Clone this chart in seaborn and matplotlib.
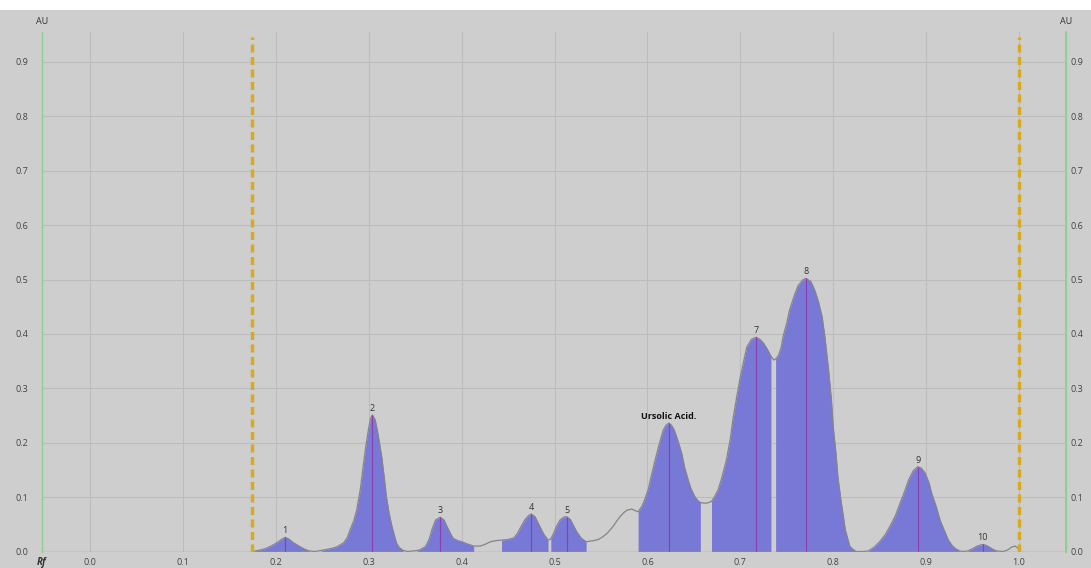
import numpy as np
import pandas as pd
import matplotlib
matplotlib.use("Agg")
import matplotlib.pyplot as plt
import matplotlib.patches as mpatches
import seaborn as sns

# ---- data ----
rf = [0.174, 0.178, 0.184, 0.190, 0.196, 0.201, 0.206, 0.210, 0.214, 0.219,
      0.225, 0.230, 0.236, 0.242, 0.249, 0.255, 0.261, 0.266, 0.273, 0.277,
      0.280, 0.284, 0.287, 0.291, 0.294, 0.297, 0.300, 0.302, 0.304, 0.307,
      0.310, 0.314, 0.317, 0.319, 0.322, 0.325, 0.328, 0.330, 0.333, 0.337,
      0.342, 0.348, 0.352, 0.355, 0.361, 0.365, 0.368, 0.372, 0.377, 0.381,
      0.384, 0.388, 0.391, 0.396, 0.400, 0.406, 0.413, 0.420, 0.425, 0.431,
      0.437, 0.443, 0.450, 0.456, 0.460, 0.464, 0.468, 0.472, 0.475, 0.479,
      0.484, 0.488, 0.493, 0.496, 0.499, 0.502, 0.506, 0.510, 0.513, 0.517,
      0.521, 0.524, 0.529, 0.534, 0.538, 0.542, 0.547, 0.552, 0.557, 0.563,
      0.567, 0.571, 0.575, 0.578, 0.583, 0.587, 0.590, 0.594, 0.597, 0.601,
      0.604, 0.608, 0.612, 0.617, 0.620, 0.623, 0.626, 0.629, 0.633, 0.637,
      0.640, 0.644, 0.647, 0.651, 0.654, 0.657, 0.661, 0.664, 0.669, 0.672,
      0.676, 0.680, 0.685, 0.689, 0.692, 0.696, 0.700, 0.704, 0.707, 0.712,
      0.717, 0.721, 0.725, 0.729, 0.733, 0.736, 0.738, 0.741, 0.744, 0.746,
      0.750, 0.753, 0.758, 0.762, 0.767, 0.771, 0.776, 0.780, 0.784, 0.788,
      0.791, 0.795, 0.798, 0.800, 0.803, 0.805, 0.808, 0.811, 0.813, 0.816,
      0.818, 0.822, 0.825, 0.832, 0.838, 0.844, 0.850, 0.856, 0.861, 0.867,
      0.872, 0.877, 0.881, 0.886, 0.891, 0.895, 0.899, 0.903, 0.906, 0.911,
      0.915, 0.920, 0.924, 0.928, 0.931, 0.936, 0.940, 0.945, 0.950, 0.955,
      0.961, 0.965, 0.969, 0.973, 0.976, 0.983, 0.988, 0.992, 0.996, 0.999,
      1.000]
au = [0.000, 0.001, 0.003, 0.006, 0.011, 0.016, 0.022, 0.026, 0.023, 0.016,
      0.010, 0.005, 0.001, 0.000, 0.002, 0.004, 0.006, 0.009, 0.016, 0.026,
      0.040, 0.057, 0.076, 0.115, 0.156, 0.195, 0.227, 0.245, 0.251, 0.242,
      0.216, 0.174, 0.132, 0.101, 0.070, 0.046, 0.027, 0.015, 0.007, 0.002,
      0.000, 0.001, 0.002, 0.003, 0.009, 0.022, 0.040, 0.058, 0.063, 0.058,
      0.047, 0.033, 0.024, 0.020, 0.018, 0.014, 0.010, 0.010, 0.013, 0.018,
      0.020, 0.021, 0.022, 0.025, 0.033, 0.046, 0.058, 0.066, 0.069, 0.064,
      0.047, 0.033, 0.021, 0.023, 0.033, 0.046, 0.058, 0.063, 0.064, 0.059,
      0.046, 0.036, 0.024, 0.018, 0.019, 0.020, 0.022, 0.027, 0.034, 0.046,
      0.056, 0.065, 0.072, 0.076, 0.078, 0.075, 0.073, 0.083, 0.095, 0.115,
      0.138, 0.166, 0.193, 0.223, 0.232, 0.236, 0.232, 0.223, 0.203, 0.180,
      0.155, 0.131, 0.115, 0.101, 0.094, 0.090, 0.089, 0.089, 0.092, 0.100,
      0.113, 0.135, 0.168, 0.205, 0.242, 0.283, 0.321, 0.352, 0.376, 0.390,
      0.394, 0.390, 0.383, 0.372, 0.359, 0.352, 0.354, 0.360, 0.375, 0.395,
      0.420, 0.444, 0.470, 0.488, 0.499, 0.502, 0.496, 0.481, 0.460, 0.432,
      0.395, 0.334, 0.280, 0.229, 0.180, 0.138, 0.098, 0.064, 0.040, 0.021,
      0.009, 0.003, 0.000, 0.000, 0.001, 0.008, 0.018, 0.031, 0.046, 0.066,
      0.089, 0.111, 0.131, 0.148, 0.156, 0.153, 0.144, 0.127, 0.107, 0.082,
      0.058, 0.037, 0.021, 0.011, 0.006, 0.001, 0.000, 0.001, 0.005, 0.010,
      0.013, 0.011, 0.007, 0.003, 0.001, 0.000, 0.003, 0.008, 0.010, 0.006,
      0.000]

peak_labels = ["1", "2", "3", "4", "5", "Ursolic Acid.", "7", "8", "9", "10"]
peak_rf = [0.210, 0.304, 0.377, 0.475, 0.513, 0.623, 0.717, 0.771, 0.891, 0.961]
peak_au = [0.026, 0.251, 0.063, 0.069, 0.064, 0.236, 0.394, 0.502, 0.156, 0.013]
fill_start = [0.174, 0.249, 0.352, 0.443, 0.496, 0.590, 0.669, 0.738, 0.838, 0.945]
fill_end = [0.236, 0.337, 0.413, 0.493, 0.534, 0.657, 0.733, 0.825, 0.936, 0.976]
marker_rf = [0.174, 1.000]

x_ticks = [0.0, 0.1, 0.2, 0.3, 0.4, 0.5, 0.6, 0.7, 0.8, 0.9, 1.0]
y_ticks = [0.0, 0.1, 0.2, 0.3, 0.4, 0.5, 0.6, 0.7, 0.8, 0.9]

df = pd.DataFrame({"Rf": rf, "AU": au})

BG = "#cecece"
GRID = "#bcbcbc"
FILL = "#7878d6"
CURVE = "#858585"
APEX = "#8e3fae"
AXGREEN = "#8fcf8f"
BASE = "#cf8a8a"
GOLD = "#d8aa1c"
TXT = "#444444"

sns.set_theme(style="white")
plt.rcParams["font.family"] = ["Open Sans", "DejaVu Sans"]

fig = plt.figure(figsize=(10.91, 5.68), dpi=100, facecolor=BG)
# white strip at top of the screenshot
fig.patches.append(mpatches.Rectangle((0, 1 - 10 / 568), 1, 10 / 568,
                                      transform=fig.transFigure,
                                      facecolor="white", edgecolor="none", zorder=0))

ax = fig.add_axes([42 / 1091, (568 - 551.5) / 568, 1024 / 1091, 519.5 / 568])
ax.set_facecolor(BG)
ax.set_xlim(-0.0517, 1.0506)
ax.set_ylim(0, 0.955)

# grid
for xv in x_ticks:
    ax.axvline(xv, color=GRID, lw=0.8, zorder=0)
for yv in y_ticks[1:]:
    ax.axhline(yv, color=GRID, lw=0.8, zorder=0)

x_arr = np.array(rf)
y_arr = np.array(au)
for s, e in zip(fill_start, fill_end):
    m = (x_arr >= s - 1e-9) & (x_arr <= e + 1e-9)
    ax.fill_between(x_arr[m], 0, y_arr[m], color=FILL, lw=0, zorder=2)

sns.lineplot(data=df, x="Rf", y="AU", ax=ax, color=CURVE, lw=0.9, zorder=3,
             estimator=None, sort=False)

ax.vlines(peak_rf, 0, peak_au, color=APEX, lw=0.8, zorder=4)

for lab, px, py in zip(peak_labels, peak_rf, peak_au):
    bold = lab.startswith("U")
    ax.annotate(lab, (px, py), xytext=(0, 1.5), textcoords="offset points",
                ha="center", va="bottom", fontsize=6.5,
                fontweight="bold" if bold else "normal",
                color="#111111" if bold else "#333333", zorder=6)

for xv in marker_rf:
    ax.plot([xv, xv], [0, 0.946], color=GOLD, lw=2.5, zorder=5,
            dashes=(2.3, 1.3), solid_capstyle="butt", dash_capstyle="butt")

ax.axhline(0, color=BASE, lw=1.0, zorder=4)

ax.spines["top"].set_visible(False)
ax.spines["bottom"].set_visible(False)
ax.spines["left"].set_color(AXGREEN)
ax.spines["right"].set_color(AXGREEN)
ax.spines["left"].set_linewidth(1.0)
ax.spines["right"].set_linewidth(1.0)

ax.set_xticks(x_ticks)
ax.set_xticklabels([f"{v:.1f}" for v in x_ticks])
ax.set_yticks(y_ticks)
ax.set_yticklabels([f"{v:.1f}" for v in y_ticks])
ax.tick_params(axis="both", length=0, labelsize=6.5, labelcolor=TXT)
ax.tick_params(axis="y", pad=10)
ax.tick_params(axis="x", pad=5)
ax.set_xlabel("")
ax.set_ylabel("")

ax2 = ax.twinx()
ax2.set_ylim(ax.get_ylim())
ax2.set_yticks(y_ticks)
ax2.set_yticklabels([f"{v:.1f}" for v in y_ticks])
ax2.tick_params(axis="y", length=0, labelsize=6.5, labelcolor=TXT, pad=3)
for sp in ["top", "bottom", "left"]:
    ax2.spines[sp].set_visible(False)
ax2.spines["right"].set_color(AXGREEN)
ax2.grid(False)

fig.text(42 / 1091, 1 - 21.5 / 568, "AU", ha="center", va="center",
         fontsize=6.5, color="#333333")
fig.text(1066 / 1091, 1 - 21.5 / 568, "AU", ha="center", va="center",
         fontsize=6.5, color="#333333")
fig.text(42 / 1091, 1 - 563 / 568, "Rf", ha="center", va="center",
         fontsize=7, color="#333333", style="italic", fontweight="bold")

fig.savefig("out.png", dpi=100, facecolor=BG)
